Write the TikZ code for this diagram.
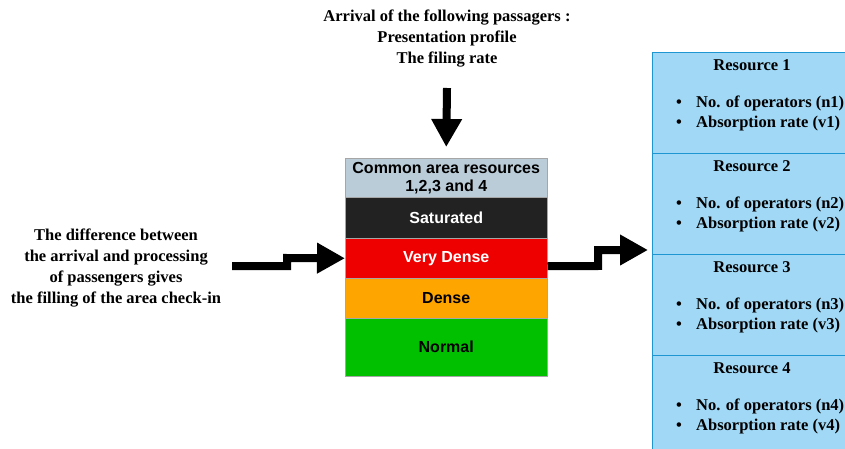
\documentclass[tikz,border=0pt]{standalone}
\usepackage{fontspec}
\setmainfont{Liberation Serif}
\setsansfont{Liberation Sans}
\usetikzlibrary{arrows.meta}
\definecolor{hdrc}{RGB}{186,204,216}
\definecolor{satc}{RGB}{34,34,34}
\definecolor{vdc}{RGB}{238,0,0}
\definecolor{dnc}{RGB}{255,165,0}
\definecolor{nmc}{RGB}{0,192,0}
\definecolor{resfill}{RGB}{160,216,245}
\definecolor{resdraw}{RGB}{30,150,210}
\tikzset{
  x=1pt, y=-1pt,
  serifbold/.style={font=\fontsize{16.5}{21}\selectfont\bfseries, align=center, inner sep=0pt},
  layer/.style={draw=gray!70, line width=0.5pt, minimum width=202pt, inner sep=0pt, anchor=north west,
    font=\sffamily\bfseries\fontsize{16}{18}\selectfont, align=center},
  resbox/.style={draw=resdraw, fill=resfill, line width=1pt, minimum width=200pt, minimum height=101pt, inner sep=0pt, anchor=north west},
  restitle/.style={font=\fontsize{16.5}{21}\selectfont\bfseries, inner sep=0pt},
  resitem/.style={font=\fontsize{16.5}{21}\selectfont\bfseries, inner sep=0pt, anchor=west},
  bigarrow/.style={line width=8pt, line join=miter, -{Triangle[length=28pt,width=29pt]}}
}
\newcommand{\bul}{\makebox[20pt][l]{\textbullet}}
\begin{document}
\begin{tikzpicture}
\useasboundingbox (0,0) rectangle (845,449);
\clip (0,0) rectangle (845,449);
% top text
\node[serifbold] (top) at (447,39) {Arrival of the following passagers :\\Presentation profile\\The filing rate};
% left text
\node[serifbold] (lt) at (116,268) {The difference between\\the arrival and processing\\of passengers gives\\the filling of the area check-in};
% stack
\node[layer, fill=hdrc, minimum height=39pt] (hdr) at (345,158) {Common area resources\\1,2,3 and 4};
\node[layer, fill=satc, minimum height=41pt, text=white] (sat) at (345,197) {Saturated};
\node[layer, fill=vdc, minimum height=40pt, text=white] (vd) at (345,238) {Very Dense};
\node[layer, fill=dnc, minimum height=40pt] (dn) at (345,278) {Dense};
\node[layer, fill=nmc, minimum height=58pt] (nm) at (345,318) {Normal};
% resources
\foreach \i/\yy in {1/52,2/153,3/254,4/355}{
  \node[resbox] (r\i) at (652,\yy) {};
  \node[restitle] (rt\i) at (752,\yy+13) {Resource \i};
  \node[resitem] (ra\i) at (676,\yy+51) {\bul No. of operators (n\i)};
  \node[resitem] (rb\i) at (676,\yy+72) {\bul Absorption rate (v\i)};
}
% arrows
\coordinate (ta) at (447,88);
\draw[bigarrow] (ta) -- ([yshift=11pt]hdr.north);
\coordinate (la) at (232,266);
\draw[bigarrow] (la) -- (287,266) -- (287,258) -- (vd.west);
\coordinate (rtip) at (648,250);
\draw[bigarrow] ([yshift=-8pt]vd.east) -- (598,266) -- (598,250) -- (rtip);
\end{tikzpicture}
\end{document}
